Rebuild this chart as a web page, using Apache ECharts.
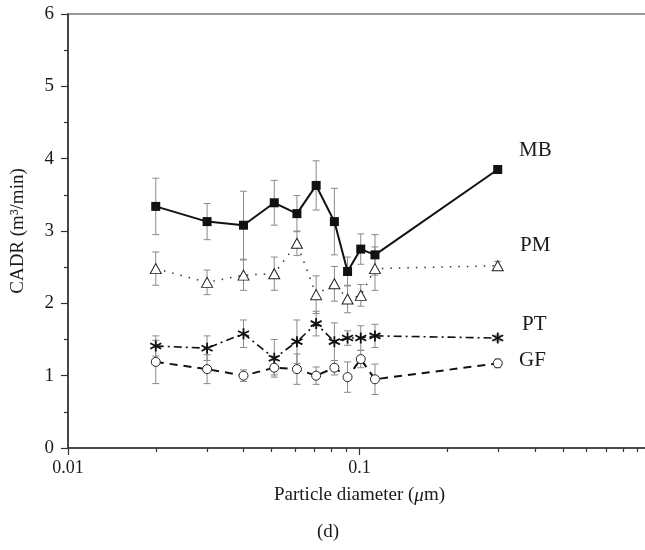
<!DOCTYPE html>
<html>
<head>
<meta charset="utf-8">
<script src="https://cdn.jsdelivr.net/npm/echarts@6/dist/echarts.min.js"></script>
<style>
  html, body { margin: 0; padding: 0; background: #fff; }
  #chart { width: 645px; height: 550px; }
</style>
</head>
<body>
<div id="chart"></div>
<script>
// particle diameter (um)
var diam = [0.02, 0.03, 0.04, 0.051, 0.061, 0.071, 0.082, 0.091, 0.101, 0.113, 0.298];

var mb = [3.34, 3.13, 3.08, 3.39, 3.24, 3.63, 3.13, 2.44, 2.75, 2.67, 3.85];
var mbErr = [0.39, 0.25, 0.47, 0.31, 0.25, 0.34, 0.46, 0.2, 0.21, 0.28, 0.03];

var pm = [2.48, 2.29, 2.39, 2.41, 2.83, 2.12, 2.27, 2.06, 2.11, 2.48, 2.52];
var pmErr = [0.23, 0.17, 0.21, 0.23, 0.17, 0.26, 0.24, 0.19, 0.15, 0.3, 0.06];

var pt = [1.41, 1.38, 1.58, 1.24, 1.47, 1.72, 1.47, 1.52, 1.52, 1.55, 1.52];
var ptErr = [0.14, 0.17, 0.19, 0.26, 0.3, 0.17, 0.26, 0.1, 0.17, 0.16, 0.04];

var gf = [1.19, 1.09, 1.0, 1.11, 1.09, 1.0, 1.11, 0.98, 1.23, 0.95, 1.17];
var gfErr = [0.3, 0.2, 0.08, 0.1, 0.21, 0.12, 0.1, 0.21, 0.12, 0.21, 0.06];

var minorTicks = [0.02, 0.03, 0.04, 0.05, 0.06, 0.07, 0.08, 0.09,
                  0.2, 0.3, 0.4, 0.5, 0.6, 0.7, 0.8, 0.9];

var FONT = 'Liberation Serif';

function pts(y) {
    return diam.map(function (x, i) { return [x, y[i]]; });
}
function errs(y, e) {
    return diam.map(function (x, i) { return [x, y[i] - e[i], y[i] + e[i]]; });
}

function errRender(params, api) {
    var x = api.value(0);
    var top = api.coord([x, api.value(2)]);
    var bot = api.coord([x, api.value(1)]);
    var w = 3.5;
    var st = { stroke: '#8a8a8a', lineWidth: 1 };
    return {
        type: 'group',
        children: [
            { type: 'line', shape: { x1: top[0], y1: top[1], x2: bot[0], y2: bot[1] }, style: st },
            { type: 'line', shape: { x1: top[0] - w, y1: top[1], x2: top[0] + w, y2: top[1] }, style: st },
            { type: 'line', shape: { x1: bot[0] - w, y1: bot[1], x2: bot[0] + w, y2: bot[1] }, style: st }
        ]
    };
}

function errSeries(y, e) {
    return {
        type: 'custom',
        renderItem: errRender,
        data: errs(y, e),
        encode: { x: 0, y: [1, 2] },
        z: 1,
        silent: true
    };
}

var star = 'path://M5 0 L5 10 M0.7 2.5 L9.3 7.5 M0.7 7.5 L9.3 2.5';

var chart = echarts.init(document.getElementById('chart'));
chart.setOption({
    animation: false,
    grid: {
        left: 68, width: 583, top: 14, height: 434,
        outerBoundsMode: 'none',
        containLabel: false,
        show: true, borderColor: '#333', borderWidth: 1.2
    },
    xAxis: [{
        type: 'log',
        logBase: 10,
        min: 0.01,
        max: 1,
        position: 'bottom',
        name: '{n|Particle diameter (}{i|μ}{n|m)}',
        nameLocation: 'middle',
        nameGap: 38,
        nameTextStyle: {
            rich: {
                n: { fontFamily: FONT, fontSize: 19, color: '#1a1a1a' },
                i: { fontFamily: FONT, fontSize: 19, fontStyle: 'italic', color: '#1a1a1a' }
            }
        },
        axisLine: { lineStyle: { color: '#333', width: 1.5 } },
        axisTick: { length: 7, lineStyle: { color: '#333', width: 1.2 } },
        axisLabel: {
            fontFamily: FONT, fontSize: 18, color: '#1a1a1a', margin: 11,
            showMaxLabel: false,
            formatter: function (v) { return v >= 1 ? '' : String(v); }
        },
        splitLine: { show: false }
    }, {
        type: 'log',
        logBase: 10,
        min: 0.01,
        max: 1,
        position: 'bottom',
        axisLine: { show: false },
        axisTick: { show: true, length: 4, customValues: minorTicks, lineStyle: { color: '#333', width: 1.2 } },
        axisLabel: { show: false },
        splitLine: { show: false }
    }],
    yAxis: {
        type: 'value',
        min: 0,
        max: 6,
        interval: 1,
        name: 'CADR (m³/min)',
        nameLocation: 'middle',
        nameGap: 40,
        nameTextStyle: { fontFamily: FONT, fontSize: 19, color: '#1a1a1a' },
        axisLine: { show: true, lineStyle: { color: '#333', width: 1.5 } },
        axisTick: { show: true, length: 7, lineStyle: { color: '#333', width: 1.2 } },
        minorTick: { show: true, splitNumber: 2, length: 4, lineStyle: { color: '#333', width: 1.2 } },
        axisLabel: { fontFamily: FONT, fontSize: 19, color: '#1a1a1a', margin: 14 },
        splitLine: { show: false }
    },
    series: [
        errSeries(mb, mbErr),
        errSeries(pm, pmErr),
        errSeries(pt, ptErr),
        errSeries(gf, gfErr),
        {
            name: 'MB', type: 'line', data: pts(mb), z: 5,
            symbol: 'rect', symbolSize: 9,
            itemStyle: { color: '#111' },
            lineStyle: { color: '#111', width: 2 }
        },
        {
            name: 'PM', type: 'line', data: pts(pm), z: 4,
            symbol: 'triangle', symbolSize: [11, 10],
            itemStyle: { color: '#fff', borderColor: '#222', borderWidth: 1 },
            lineStyle: { color: '#333', width: 1.5, type: [1.5, 7] }
        },
        {
            name: 'PT', type: 'line', data: pts(pt), z: 4,
            symbol: star, symbolSize: 11,
            itemStyle: { color: '#111', borderColor: '#111', borderWidth: 1.8 },
            lineStyle: { color: '#111', width: 1.6, type: [8, 4, 2, 4] }
        },
        {
            name: 'GF', type: 'line', data: pts(gf), z: 4,
            symbol: 'circle', symbolSize: 9,
            itemStyle: { color: '#fff', borderColor: '#222', borderWidth: 1 },
            lineStyle: { color: '#111', width: 2, type: [8, 6] }
        }
    ],
    graphic: [
        { type: 'text', left: 519, top: 140, style: { text: 'MB', fontFamily: FONT, fontSize: 21, fill: '#1a1a1a' } },
        { type: 'text', left: 520, top: 235, style: { text: 'PM', fontFamily: FONT, fontSize: 21, fill: '#1a1a1a' } },
        { type: 'text', left: 522, top: 314, style: { text: 'PT', fontFamily: FONT, fontSize: 21, fill: '#1a1a1a' } },
        { type: 'text', left: 519, top: 350, style: { text: 'GF', fontFamily: FONT, fontSize: 21, fill: '#1a1a1a' } },
        { type: 'text', left: 317, top: 523, style: { text: '(d)', fontFamily: FONT, fontSize: 19, fill: '#1a1a1a' } }
    ]
});
</script>
</body>
</html>
